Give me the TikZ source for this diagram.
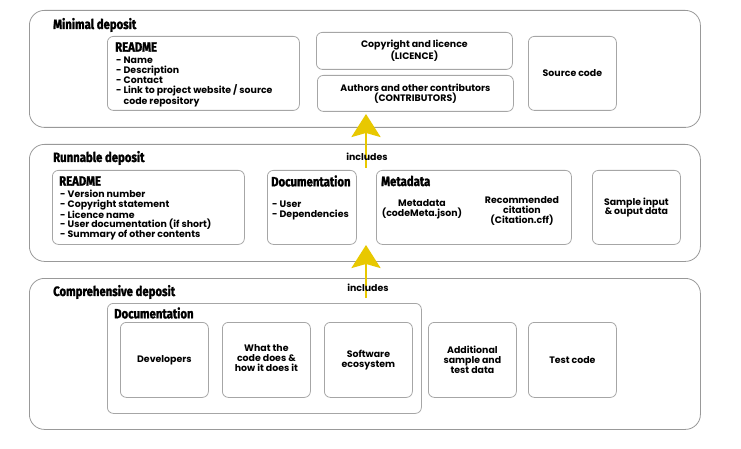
\documentclass[tikz,border=0pt]{standalone}
\usepackage{fontspec}
\setmainfont{Poppins}
\newfontfamily\titlefont[FakeStretch=0.84, FakeBold=1.6]{Fira Sans}
\usetikzlibrary{arrows.meta}

\begin{document}
\begin{tikzpicture}[x=1pt, y=-1pt,
deposit_box/.style={rectangle, draw=gray!80, line width=0.8pt, rounded corners=15pt, anchor=north west},
item_box/.style={rectangle, draw=gray!70, line width=0.8pt, rounded corners=6pt, anchor=north west},
deposit_title/.style={anchor=west, inner sep=0pt, font=\titlefont\bfseries\fontsize{13.5}{14}\selectfont},
box_title/.style={anchor=west, inner sep=0pt, font=\titlefont\bfseries\fontsize{13.5}{14}\selectfont},
item_text/.style={align=center, inner sep=0pt, font=\bfseries\fontsize{9.4}{9.8}\selectfont},
list_text/.style={align=left, anchor=north west, inner sep=0pt, font=\bfseries\fontsize{9.4}{9.8}\selectfont},
includes_arrow/.style={-{Stealth[length=23pt, width=29pt, inset=4pt]}, color=incyellow, line width=2.6pt},
]
\definecolor{incyellow}{RGB}{232,200,0}
\useasboundingbox (0,0) rectangle (741,449);

% minimal deposit
\node[deposit_box, minimum width=671pt, minimum height=117pt] (minimal) at (29,10) {};
\node[deposit_title] (minimal_title) at (53,25) {Minimal deposit};
\node[item_box, minimum width=192pt, minimum height=74pt] (readme_min) at (107,36) {};
\node[box_title] (readme_min_title) at (115,47) {README};
\node[list_text] (readme_min_list) at (116,57) {- Name\\- Description\\- Contact\\- Link to project website / source\\\phantom{- }code repository};
\node[item_box, minimum width=196pt, minimum height=37pt] (licence) at (316,32) {};
\node[item_text] (licence_text) at (licence.center) {Copyright and licence\\(LICENCE)};
\node[item_box, minimum width=196pt, minimum height=36pt] (contrib) at (317,75) {};
\node[item_text] (contrib_text) at (contrib.center) {Authors and other contributors\\(CONTRIBUTORS)};
\node[item_box, minimum width=88pt, minimum height=74pt] (source) at (528,36) {};
\node[item_text] (source_text) at (source.center) {Source code};

% runnable deposit
\node[deposit_box, minimum width=671pt, minimum height=117pt] (runnable) at (29,144) {};
\node[deposit_title] (runnable_title) at (53,158) {Runnable deposit};
\node[item_box, minimum width=192pt, minimum height=74pt] (readme_run) at (52,170) {};
\node[box_title] (readme_run_title) at (59,181) {README};
\node[list_text] (readme_run_list) at (60,189.5) {- Version number\\- Copyright statement\\- Licence name\\- User documentation (if short)\\- Summary of other contents};
\node[item_box, minimum width=89pt, minimum height=74pt] (doc_run) at (267,170) {};
\node[box_title] (doc_run_title) at (271,181) {Documentation};
\node[list_text] (doc_run_list) at (272,201) {- User\\- Dependencies};
\node[item_box, minimum width=195pt, minimum height=74pt] (metadata) at (376,170) {};
\node[box_title] (metadata_title) at (381,181) {Metadata};
\node[item_text] (codemeta) at (422,209) {Metadata\\(codeMeta.json)};
\node[item_text] (citation) at (522,211) {Recommended\\citation\\(Citation.cff)};
\node[item_box, minimum width=88pt, minimum height=74pt] (sample) at (592,170) {};
\node[item_text] (sample_text) at (sample.center) {Sample input\\\& ouput data};

% comprehensive deposit
\node[deposit_box, minimum width=671pt, minimum height=151pt] (comprehensive) at (29,278) {};
\node[deposit_title] (comprehensive_title) at (53,292) {Comprehensive deposit};
\node[item_box, minimum width=314pt, minimum height=110pt] (doc_comp) at (107,303) {};
\node[box_title] (doc_comp_title) at (114,313) {Documentation};
\node[item_box, minimum width=88pt, minimum height=75pt] (developers) at (120,322) {};
\node[item_text] (developers_text) at (developers.center) {Developers};
\node[item_box, minimum width=88pt, minimum height=75pt] (whatcode) at (222,322) {};
\node[item_text] (whatcode_text) at ([yshift=2pt]whatcode.center) {What the\\code does \&\\how it does it};
\node[item_box, minimum width=88pt, minimum height=75pt] (ecosystem) at (324,322) {};
\node[item_text] (ecosystem_text) at (ecosystem.center) {Software\\ecosystem};
\node[item_box, minimum width=88pt, minimum height=75pt] (additional) at (428,322) {};
\node[item_text] (additional_text) at (additional.center) {Additional\\sample and\\test data};
\node[item_box, minimum width=88pt, minimum height=75pt] (testcode) at (528,322) {};
\node[item_text] (testcode_text) at (testcode.center) {Test code};

% includes arrows
\coordinate (inc_run_start) at (366,168);
\coordinate (inc_run_end) at (366,114);
\coordinate (inc_comp_start) at (366,298);
\coordinate (inc_comp_end) at (366,245);
\draw[includes_arrow] (inc_run_start) -- (inc_run_end);
\draw[includes_arrow] (inc_comp_start) -- (inc_comp_end);
\node[item_text] (inc_run) at (367,157) {includes};
\node[item_text] (inc_comp) at (368,288) {includes};

\end{tikzpicture}
\end{document}
